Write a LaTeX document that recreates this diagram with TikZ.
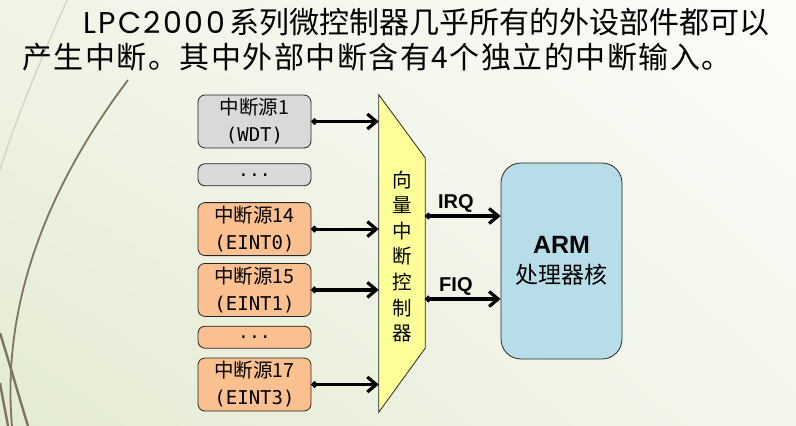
\documentclass[tikz,border=0pt]{standalone}
\usepackage{fontspec}
\setmainfont{Noto Sans CJK SC}
\newfontfamily\titlefont{Noto Sans CJK SC}
\newfontfamily\titlelatin[LetterSpace=8]{Poppins}
\newfontfamily\monofont{DejaVu Sans Mono}
\newfontfamily\arialfont{Liberation Sans}
\usetikzlibrary{positioning,calc,arrows.meta,shadings}

\definecolor{srcgray}{RGB}{217,217,217}
\definecolor{srcorange}{RGB}{250,192,144}
\definecolor{vicyellow}{RGB}{255,255,153}
\definecolor{armblue}{RGB}{183,222,232}
\definecolor{swoosh}{RGB}{125,117,95}
\definecolor{swooshlight}{RGB}{208,204,190}
\definecolor{bgul}{RGB}{240,244,230}
\definecolor{bgur}{RGB}{252,252,249}
\definecolor{bgll}{RGB}{228,235,210}
\definecolor{bglr}{RGB}{244,246,236}

\begin{document}
\begin{tikzpicture}[x=1pt,y=-1pt,
         src/.style = {draw=black!85, line width=0.8pt, rounded corners=7pt,
         minimum width=113pt, minimum height=53pt, inner sep=0pt,
         align=center, font=\fontsize{19.5}{27}\selectfont},
         srcdots/.style = {src, minimum height=22pt, font=\monofont\fontsize{18}{18}\selectfont},
         vicbox/.style = {minimum width=46pt, minimum height=317pt, inner sep=0pt},
         core/.style = {draw=black!85, line width=0.8pt, fill=armblue, rounded corners=20pt,
         minimum width=121pt, minimum height=196pt, align=center,
         font=\fontsize{23}{30}\selectfont},
         sig/.style = {line width=3.2pt, {Circle[length=6pt]}-{Straight Barb[length=9pt,width=15pt]}},
         lbl/.style = {font=\arialfont\bfseries\fontsize{20}{20}\selectfont, inner sep=2pt},
         title/.style = {anchor=west, inner sep=0pt, font=\titlefont\fontsize{30}{30}\selectfont}
]

         % slide background
         \useasboundingbox (0,0) rectangle (796,426);
         \shade[upper left=bgul, upper right=bgur, lower left=bgll, lower right=bglr]
         (0,0) rectangle (796,426);
         \draw[swooshlight, line width=1pt] (67,0) .. controls (45,50) and (15,120) .. (0,170);
         \draw[swoosh, line width=1.8pt] (128,80) .. controls (60,170) and (0,290) .. (12,426);
         \draw[swoosh, line width=2.4pt] (0,333) .. controls (10,365) and (20,400) .. (28,426);
         \draw[swoosh, line width=2.4pt] (0,383) .. controls (3,400) and (6,415) .. (8,426);

         % title
         \node[title] (title1) at (83,22) {{\titlelatin LPC2000}\,系列微控制器几乎所有的外设部件都可以};
         \node[title] (title2) at (22,57) {\addfontfeature{LetterSpace=5}产生中断。其中外部中断含有4个独立的中断输入。};

         % interrupt sources
         \node[src, fill=srcgray]                (s1)  at (254.5,121.5) {中断源1\\\monofont\fontsize{19}{27}\selectfont (WDT)};
         \node[srcdots, fill=srcgray, below=15pt of s1]    (d1)  {...};
         \node[src, fill=srcorange, below=16pt of d1]     (s14) {中断源14\\\monofont\fontsize{19}{27}\selectfont (EINT0)};
         \node[src, fill=srcorange, below=7pt of s14]     (s15) {中断源15\\\monofont\fontsize{19}{27}\selectfont (EINT1)};
         \node[srcdots, fill=srcorange, below=9pt of s15] (d2)  {...};
         \node[src, fill=srcorange, below=9pt of d2]      (s17) {中断源17\\\monofont\fontsize{19}{27}\selectfont (EINT3)};

         % vector interrupt controller
         \node[vicbox] (vic) at (402,253.5) {};
         \draw[draw=black!85, line width=0.8pt, fill=vicyellow]
         (vic.north west) -- ($(vic.north east)+(0,63)$) --
         ($(vic.south east)+(0,-64)$) -- (vic.south west) -- cycle;
         \node[align=center, inner sep=0pt, font=\fontsize{19.5}{25.6}\selectfont]
         (viclabel) at ($(vic.center)+(0,3)$) {向\\量\\中\\断\\控\\制\\器};

         % ARM core
         \node[core] (arm) at (561.5,261)
         {{\arialfont\bfseries\fontsize{25}{30}\selectfont ARM}\\处理器核};

         \coordinate (irq) at (0,216);
         \coordinate (fiq) at (0,299);

         \draw[sig] (s1.east)  -- (s1.east -| vic.west);
         \draw[sig] (s14.east) -- (s14.east -| vic.west);
         \draw[sig] (s15.east) -- (s15.east -| vic.west);
         \draw[sig] (s17.east) -- (s17.east -| vic.west);

         \draw[sig] (vic.east |- irq) -- node[lbl, above, xshift=-7pt] {IRQ} (arm.west |- irq);
         \draw[sig] (vic.east |- fiq) -- node[lbl, above, xshift=-7pt] {FIQ} (arm.west |- fiq);

\end{tikzpicture}
\end{document}
